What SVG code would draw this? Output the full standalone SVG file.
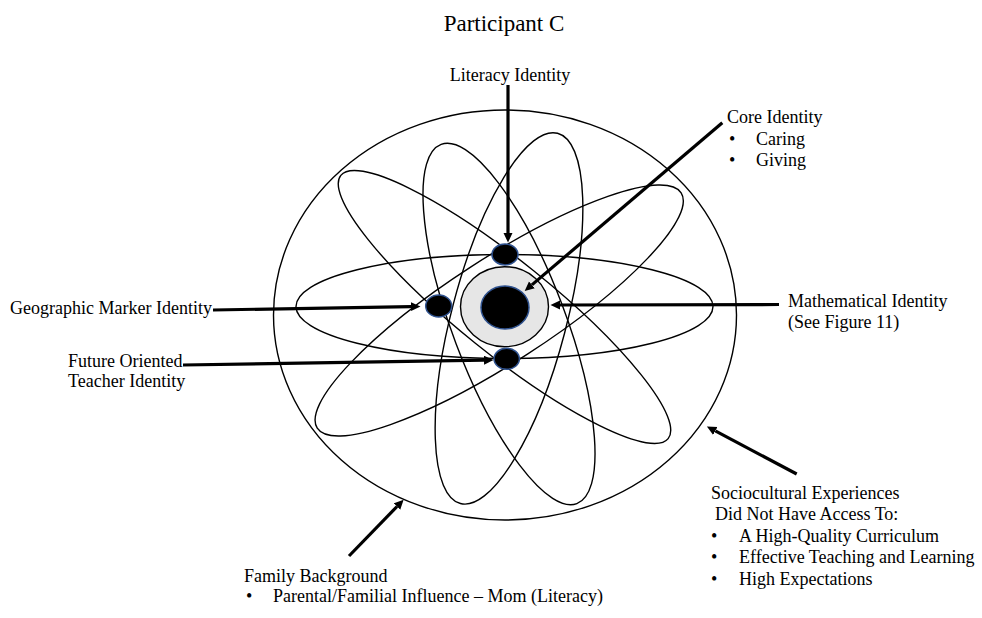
<svg xmlns="http://www.w3.org/2000/svg" width="982" height="618" viewBox="0 0 982 618">
<style>
text{font-family:"Liberation Serif","Times New Roman",serif;font-size:18px;fill:#000}
.orb{fill:none;stroke:#000;stroke-width:1.4}
.node{fill:#000;stroke:#2F528F;stroke-width:1.5}
.arr{fill:none;stroke:#000;stroke-width:3.2}
</style>
<defs>
<marker id="ah" markerWidth="10" markerHeight="10" refX="0" refY="4.5" orient="auto" markerUnits="userSpaceOnUse">
<path d="M0,0 L9.5,4.5 L0,9 z" fill="#000"/>
</marker>
</defs>
<rect width="982" height="618" fill="#fff"/>
<text x="504" y="31" text-anchor="middle" style="font-size:23px">Participant C</text>

<g id="orbits">
<ellipse class="orb" cx="505" cy="315" rx="231.5" ry="205"/>
<ellipse class="orb" cx="504.5" cy="306.5" rx="208.5" ry="52"/>
<ellipse class="orb" cx="509" cy="324" rx="56.5" ry="192" transform="rotate(-20.7 509 324)"/>
<ellipse class="orb" cx="509" cy="318.4" rx="57.5" ry="191.4" transform="rotate(14.7 509 318.4)"/>
<ellipse class="orb" cx="504.5" cy="307" rx="210" ry="46.5" transform="rotate(38.8 504.5 307)"/>
<ellipse class="orb" cx="499.2" cy="310.5" rx="216.7" ry="52" transform="rotate(-32.9 499.2 310.5)"/>
</g>

<g id="core">
<ellipse cx="504.5" cy="306.7" rx="44" ry="40" fill="#E6E6E6" stroke="#000" stroke-width="1.4"/>
<ellipse class="node" cx="505" cy="307.5" rx="24" ry="21.5"/>
</g>
<g id="node-literacy"><ellipse class="node" cx="505" cy="254.5" rx="13" ry="10.5"/></g>
<g id="node-geographic"><ellipse class="node" cx="438.7" cy="306" rx="13" ry="11"/></g>
<g id="node-future"><ellipse class="node" cx="506.7" cy="358.8" rx="12.7" ry="10.5"/></g>

<g id="connectors">
<path class="arr" d="M508,85 L508,233" marker-end="url(#ah)"/>
<path class="arr" d="M722.3,122.7 L531.9,284.9" marker-end="url(#ah)"/>
<path class="arr" d="M213,310 L411,306.6" marker-end="url(#ah)"/>
<path class="arr" d="M183,365 L484,360.2" marker-end="url(#ah)"/>
<path class="arr" d="M779,304.5 L560,305" marker-end="url(#ah)"/>
<path class="arr" d="M349,556 L397,506.5" marker-end="url(#ah)"/>
<path class="arr" d="M796.7,474 L715.3,430.9" marker-end="url(#ah)"/>
</g>

<g id="label-literacy"><text x="510" y="81" text-anchor="middle">Literacy Identity</text></g>
<g id="label-core">
<text x="727" y="123">Core Identity</text>
<text x="729" y="144.5">•</text><text x="756" y="144.5">Caring</text>
<text x="729" y="166">•</text><text x="756" y="166">Giving</text>
</g>
<g id="label-geographic"><text x="10" y="314">Geographic Marker Identity</text></g>
<g id="label-future">
<text x="68" y="366.5">Future Oriented</text>
<text x="68" y="387">Teacher Identity</text>
</g>
<g id="label-math">
<text x="788" y="306.5">Mathematical Identity</text>
<text x="788" y="327.5">(See Figure 11)</text>
</g>
<g id="label-socio">
<text x="711" y="499">Sociocultural Experiences</text>
<text x="715" y="520">Did Not Have Access To:</text>
<text x="711" y="541.5">•</text><text x="739" y="541.5">A High-Quality Curriculum</text>
<text x="711" y="563">•</text><text x="739" y="563">Effective Teaching and Learning</text>
<text x="711" y="584.5">•</text><text x="739" y="584.5">High Expectations</text>
</g>
<g id="label-family">
<text x="244" y="582">Family Background</text>
<text x="246" y="602">•</text><text x="273" y="602">Parental/Familial Influence – Mom (Literacy)</text>
</g>
</svg>
